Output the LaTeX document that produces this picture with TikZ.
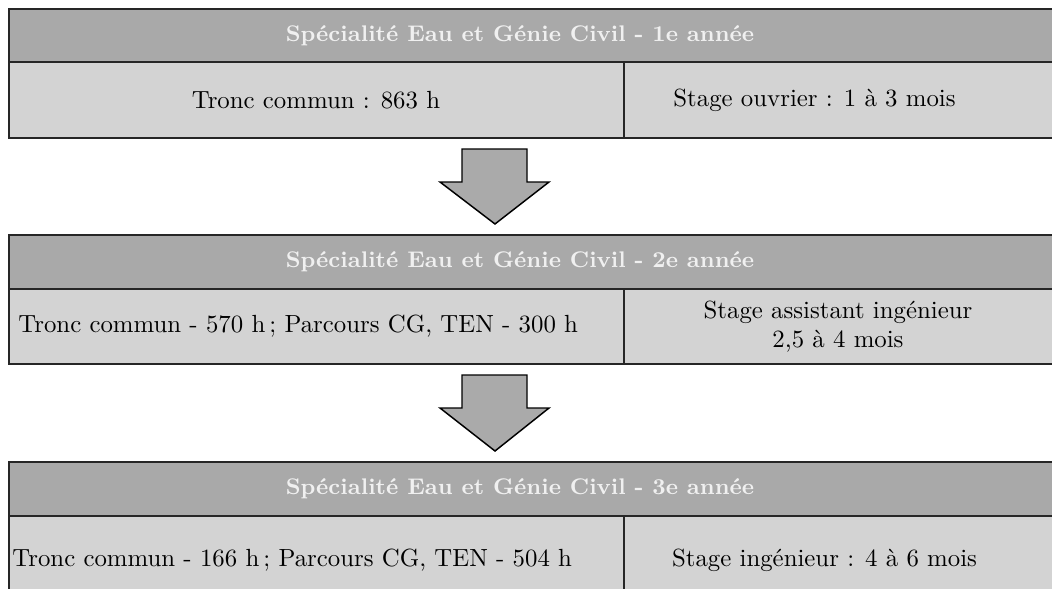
\documentclass[tikz,border=0pt]{standalone}
\usepackage{fontspec}
\usetikzlibrary{fit}
\definecolor{hdrgray}{RGB}{169,169,169}
\definecolor{cellgray}{RGB}{211,211,211}
\definecolor{arrgray}{RGB}{170,170,170}
\definecolor{hdrtext}{RGB}{240,240,240}
\tikzset{
  hdrbox/.style={draw=black!85, line width=0.6pt, fill=hdrgray, inner sep=0pt},
  cellbox/.style={draw=black!85, line width=0.6pt, fill=cellgray, inner sep=0pt},
  hdrtxt/.style={text=hdrtext, font=\fontsize{9.2pt}{11pt}\selectfont\bfseries, inner sep=0pt},
  celltxt/.style={text=black, inner sep=0pt, align=center},
  blockarrow/.style={draw=black, line width=0.6pt, fill=arrgray, line join=miter},
}
\begin{document}
\begin{tikzpicture}[x=0.407pt, y=-0.407pt, font=\fontsize{10.1pt}{11.8pt}\selectfont]
\useasboundingbox (0,0) rectangle (1052,588);
\clip (0,0) rectangle (1052,588);
% Year 1
\node[hdrbox, fit={(9,9) (1070,62)}] (h1) {};
\node[cellbox, fit={(9,62) (624,138)}] (l1) {};
\node[cellbox, fit={(624,62) (1070,138)}] (r1) {};
\node[hdrtxt] (th1) at (520,35.5) {Spécialité Eau et Génie Civil - 1e année};
\node[celltxt] (tl1) at (316,100) {Tronc commun : 863 h};
\node[celltxt] (tr1) at (814.5,100) {Stage ouvrier : 1 à 3 mois};
% Arrow 1
\path[blockarrow] (462,149) -- (527,149) -- (527,182) -- (549,182) -- (495,224) -- (440,182) -- (462,182) -- cycle;
% Year 2
\node[hdrbox, fit={(9,235) (1070,289)}] (h2) {};
\node[cellbox, fit={(9,289) (624,364)}] (l2) {};
\node[cellbox, fit={(624,289) (1070,364)}] (r2) {};
\node[hdrtxt] (th2) at (520,262) {Spécialité Eau et Génie Civil - 2e année};
\node[celltxt, anchor=west] (tl2) at (18,326.5) {Tronc commun - 570 h\,; Parcours CG, TEN - 300 h};
\node[celltxt] (tr2) at (838,326.5) {Stage assistant ingénieur\\2,5 à 4 mois};
% Arrow 2
\path[blockarrow] (462,375) -- (527,375) -- (527,408) -- (549,408) -- (495,451) -- (440,408) -- (462,408) -- cycle;
% Year 3
\node[hdrbox, fit={(9,462) (1070,516)}] (h3) {};
\node[cellbox, fit={(9,516) (624,604)}] (l3) {};
\node[cellbox, fit={(624,516) (1070,604)}] (r3) {};
\node[hdrtxt] (th3) at (520,489) {Spécialité Eau et Génie Civil - 3e année};
\node[celltxt, anchor=west] (tl3) at (12,560) {Tronc commun - 166 h\,; Parcours CG, TEN - 504 h};
\node[celltxt] (tr3) at (824.5,560) {Stage ingénieur : 4 à 6 mois};
\end{tikzpicture}
\end{document}
